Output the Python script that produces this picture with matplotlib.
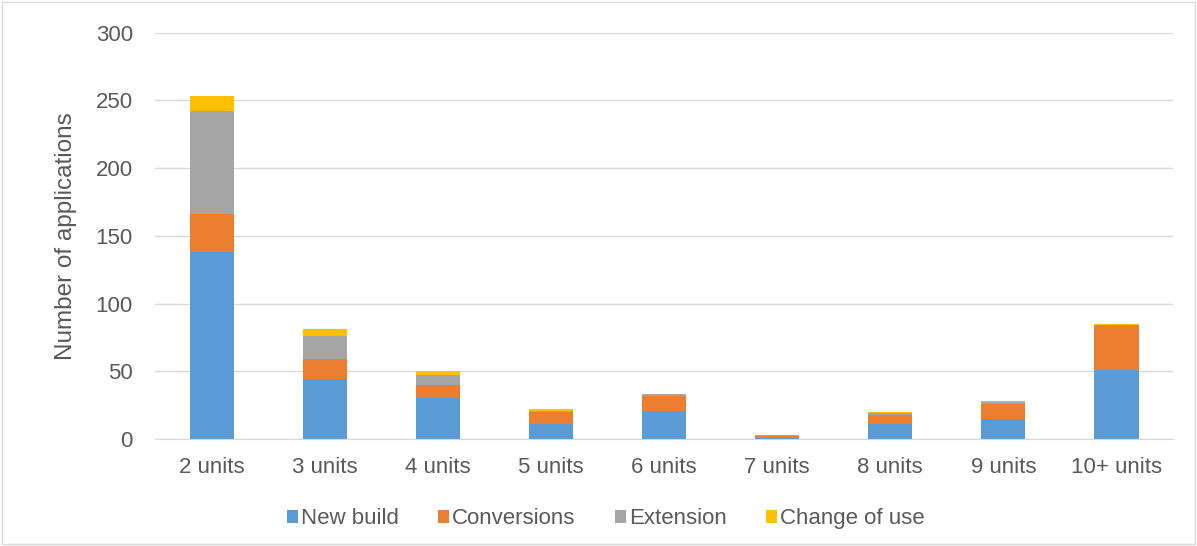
import numpy as np
import matplotlib.pyplot as plt

plt.rcParams['font.family'] = ['Liberation Sans', 'DejaVu Sans']

categories = ['2 units', '3 units', '4 units', '5 units', '6 units',
              '7 units', '8 units', '9 units', '10+ units']
new_build = [138, 44, 30, 11, 21, 1, 11, 15, 51]
conversions = [28, 15, 10, 9, 11, 1, 7, 11, 33]
extension = [76, 17, 7, 1, 1, 1, 1, 1, 0]
change_of_use = [11, 5, 3, 1, 0, 0, 1, 1, 1]

series = [
    ('New build', new_build, '#5B9BD5'),
    ('Conversions', conversions, '#ED7D31'),
    ('Extension', extension, '#A5A5A5'),
    ('Change of use', change_of_use, '#FFC000'),
]

text_color = '#595959'
fig = plt.figure(figsize=(11.97, 5.46), dpi=100)
ax = fig.add_axes([0.1295, 0.196, 0.8505, 0.744])

x = np.arange(len(categories))
bottom = np.zeros(len(categories))
for label, vals, color in series:
    ax.bar(x, vals, width=0.39, bottom=bottom, color=color, label=label, zorder=3)
    bottom += np.array(vals)

ax.set_xlim(-0.5, len(categories) - 0.5)
ax.set_ylim(0, 300)
ax.set_yticks(range(0, 301, 50))
ax.set_xticks(x)
ax.set_xticklabels(categories)
ax.grid(axis='y', color='#D9D9D9', linewidth=1, zorder=0)
for s in ['top', 'right', 'left']:
    ax.spines[s].set_visible(False)
ax.spines['bottom'].set_color('#D9D9D9')
ax.tick_params(axis='both', length=0, labelsize=16, colors=text_color)
ax.tick_params(axis='x', pad=13)
ax.tick_params(axis='y', pad=16)
ax.set_ylabel('Number of applications', fontsize=17.5, color=text_color)
ax.yaxis.set_label_coords(-0.077, 0.5)

fig.legend(*ax.get_legend_handles_labels(), loc='center', bbox_to_anchor=(0.506, 0.05),
           ncol=4, frameon=False, fontsize=16, labelcolor=text_color,
           handlelength=0.5, handleheight=0.5, handletextpad=0.15, columnspacing=1.75)

# light frame around the chart
fig.patches.append(plt.Rectangle((0.002, 0.004), 0.996, 0.992, transform=fig.transFigure,
                                 fill=False, edgecolor='#D9D9D9', linewidth=1))

fig.savefig('out.png', dpi=100)
